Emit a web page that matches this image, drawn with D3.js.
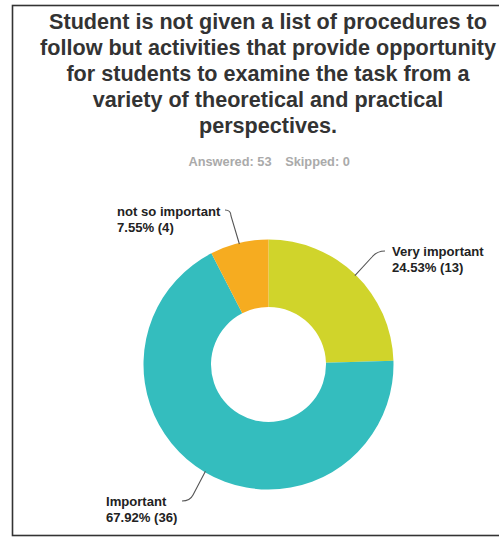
<!DOCTYPE html>
<html>
<head>
<meta charset="utf-8">
<script src="https://cdn.jsdelivr.net/npm/d3@7"></script>
<style>
  html, body { margin: 0; padding: 0; background: #fff; }
  svg { display: block; }
</style>
</head>
<body>
<svg id="chart" width="499" height="539"></svg>
<script>
const titleLines = [
  "Student is not given a list of procedures to",
  "follow but activities that provide opportunity",
  "for students to examine the task from a",
  "variety of theoretical and practical",
  "perspectives."
];
const answered = 53;
const skipped = 0;
const categories = ["Very important", "Important", "not so important"];
const percents = [24.53, 67.92, 7.55];
const counts = [13, 36, 4];
const colors = ["#d0d42b", "#34bdbe", "#f6ac20"];

const svg = d3.select("#chart");
const cx = 268.5, cy = 364.5, outerR = 125, innerR = 57.5;
const FONT = "'Liberation Sans', Arial, sans-serif";

// frame
svg.append("rect").attr("x", 12.5).attr("y", 5.5).attr("width", 520).attr("height", 530)
  .attr("fill", "none").attr("stroke", "#333").attr("stroke-width", 1.6);

// title
const title = svg.append("text")
  .attr("text-anchor", "middle")
  .attr("font-family", FONT)
  .attr("font-weight", "bold").attr("font-size", 21.6).attr("fill", "#333");
titleLines.forEach((t, i) => {
  title.append("tspan").attr("x", 268).attr("y", 28.5 + i * 26).text(t);
});

svg.append("text").attr("x", 230).attr("y", 165.5).attr("text-anchor", "middle")
  .attr("font-family", FONT).attr("font-weight", "bold")
  .attr("font-size", 12.8).attr("fill", "#aaa").text("Answered: " + answered);
svg.append("text").attr("x", 317.5).attr("y", 165.5).attr("text-anchor", "middle")
  .attr("font-family", FONT).attr("font-weight", "bold")
  .attr("font-size", 12.8).attr("fill", "#aaa").text("Skipped: " + skipped);

const data = categories.map((c, i) => ({ cat: c, pct: percents[i], count: counts[i], color: colors[i] }));
const pie = d3.pie().value(d => d.count).sort(null);
const arcs = pie(data);
const arc = d3.arc().innerRadius(innerR).outerRadius(outerR);

const g = svg.append("g").attr("transform", `translate(${cx},${cy})`);
g.selectAll("path").data(arcs).enter().append("path")
  .attr("d", arc).attr("fill", d => d.data.color);

// labels with curved leader lines
const labelPos = [
  { tx: 392, ty: 256, lineStart: [385, 251], bend: [-8, 0, -13, 6] },
  { tx: 106, ty: 506, lineStart: [182, 501], bend: [8, 0, 11, -6] },
  { tx: 117, ty: 216, lineStart: [225, 210], bend: [6, 0, 6, 6] }
];
const labelG = svg.append("g")
  .attr("font-family", FONT)
  .attr("font-weight", "bold").attr("font-size", 13.1).attr("fill", "#222");

arcs.forEach((a, i) => {
  const lp = labelPos[i];
  const mid = (a.startAngle + a.endAngle) / 2;
  const r = outerR - 1;
  const px = cx + r * Math.sin(mid), py = cy - r * Math.cos(mid);
  const [sx, sy] = lp.lineStart;
  const b = lp.bend;
  const path = d3.path();
  path.moveTo(sx, sy);
  path.quadraticCurveTo(sx + b[0], sy + b[1], sx + b[2], sy + b[3]);
  path.lineTo(px, py);
  svg.append("path").attr("d", path.toString()).attr("fill", "none")
    .attr("stroke", "#555").attr("stroke-width", 1.1);
  const t = labelG.append("text");
  t.append("tspan").attr("x", lp.tx).attr("y", lp.ty).text(a.data.cat);
  t.append("tspan").attr("x", lp.tx).attr("y", lp.ty + 16).text(a.data.pct.toFixed(2) + "% (" + a.data.count + ")");
});
</script>
</body>
</html>
